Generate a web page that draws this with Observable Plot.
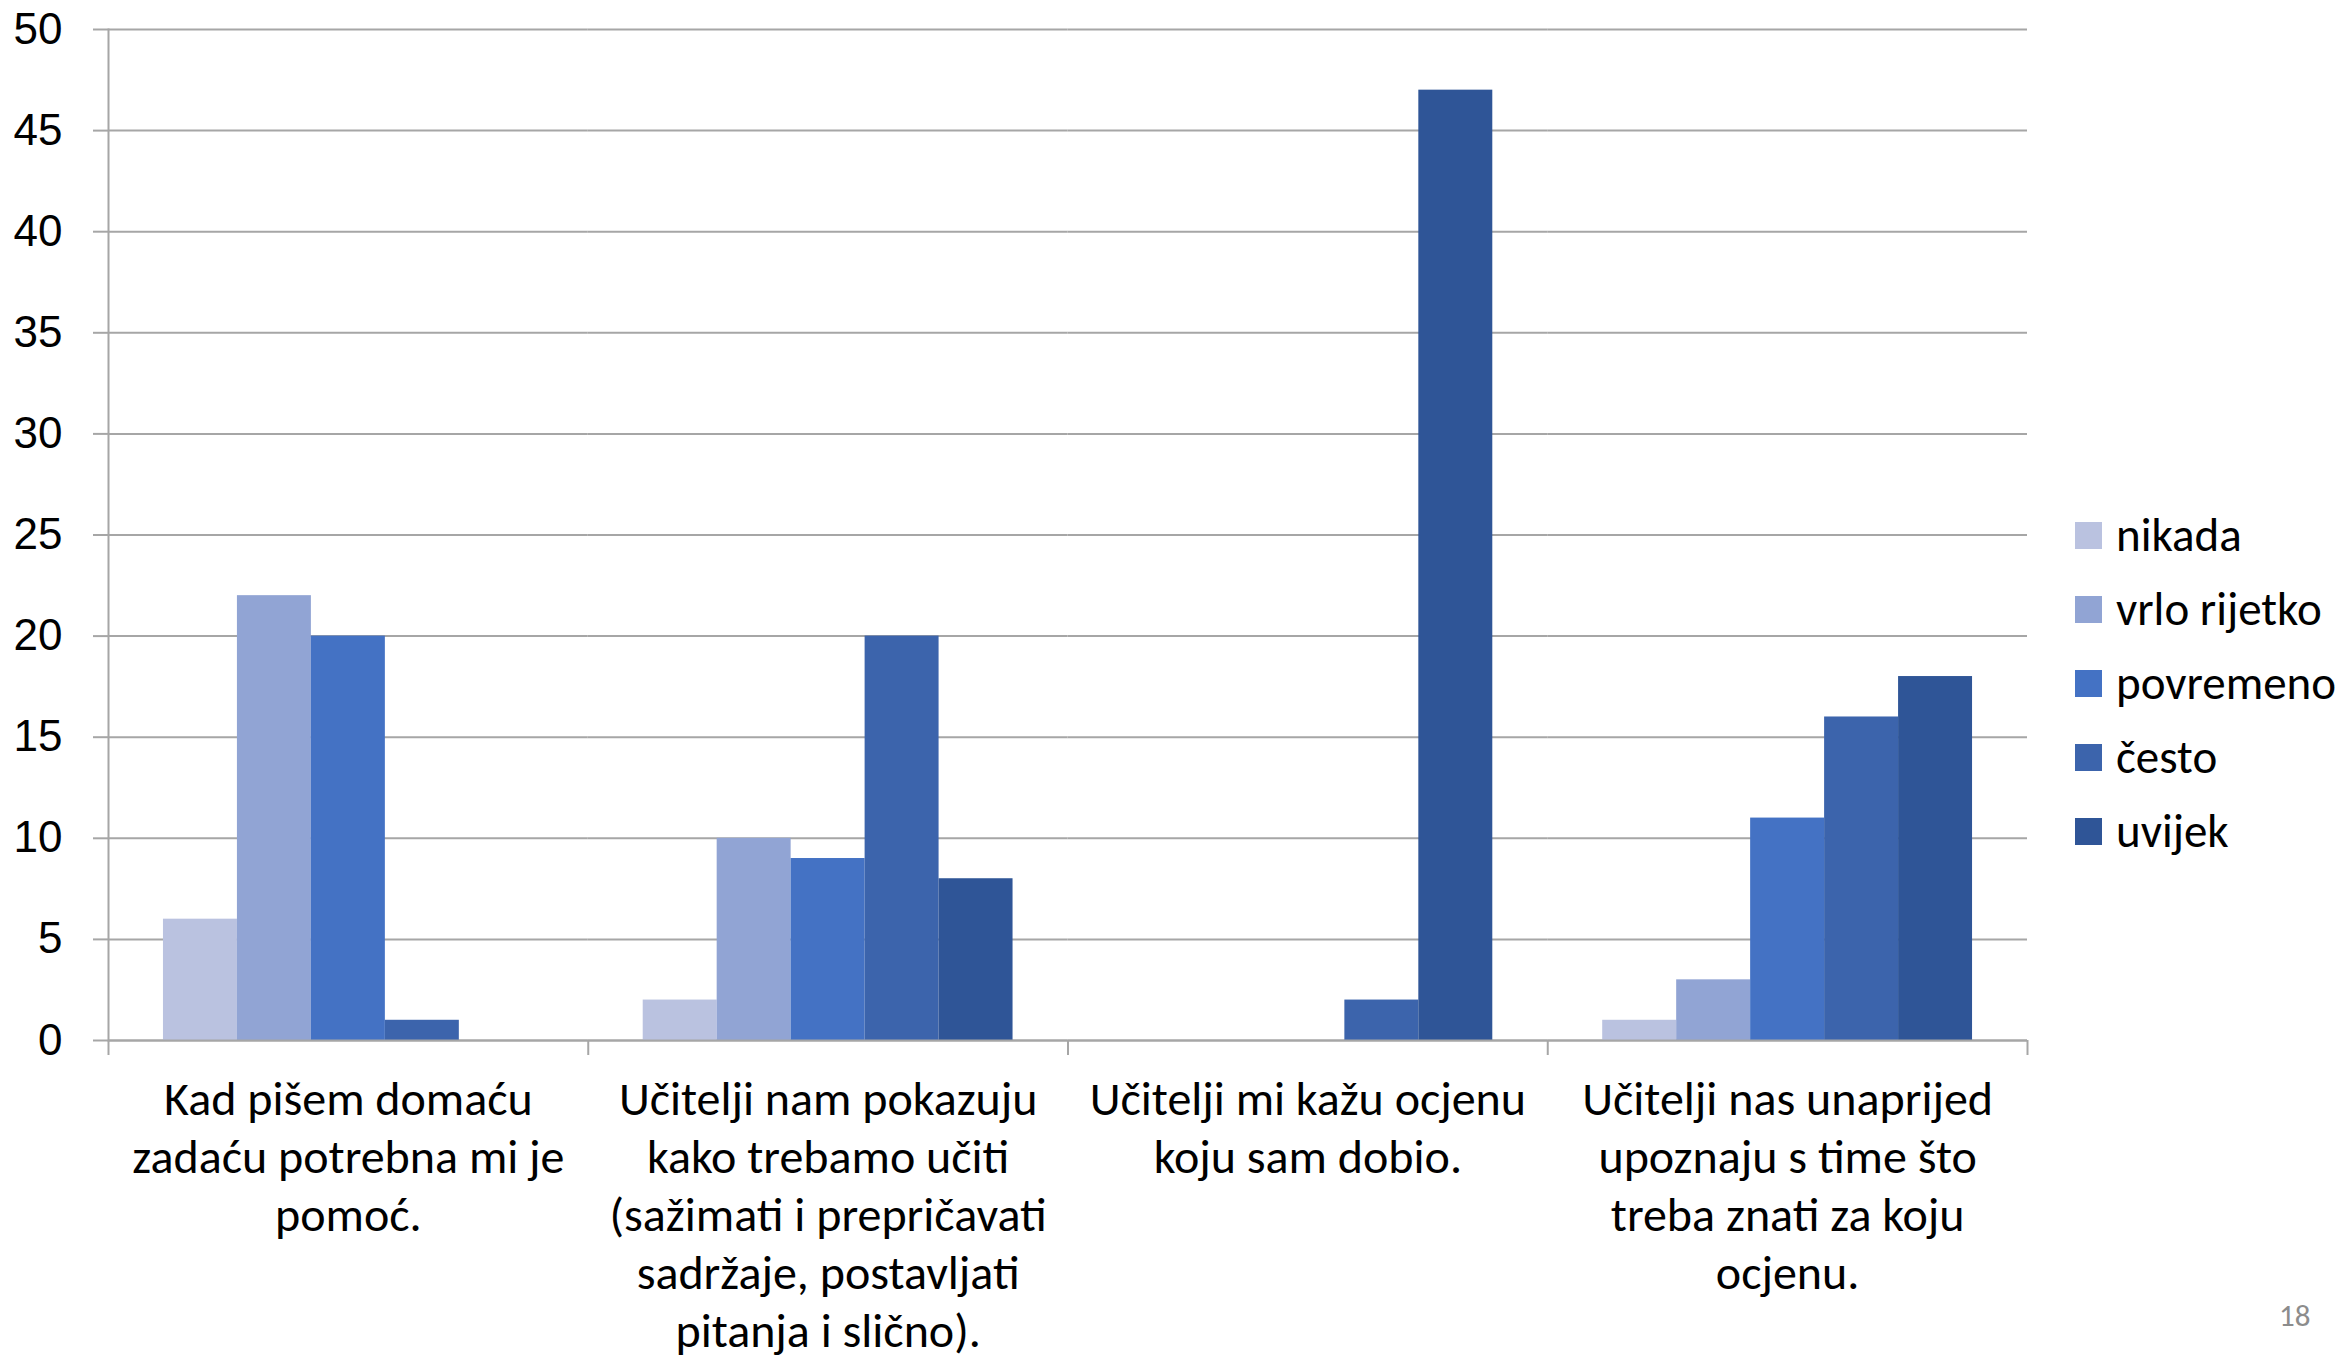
<!DOCTYPE html>
<html>
<head>
<meta charset="utf-8">
<script src="https://cdn.jsdelivr.net/npm/d3@7"></script>
<script src="https://cdn.jsdelivr.net/npm/@observablehq/plot@0.6"></script>
<style>
  html, body { margin: 0; padding: 0; background: #fff; }
  #wrap { position: relative; width: 2349px; height: 1359px; overflow: hidden; }
  #legend { position: absolute; left: 2075px; top: 498px; font-family: Carlito, Lato, sans-serif; font-size: 47px; color: #000; }
  .item { display: flex; align-items: center; height: 74px; }
  .sw { width: 27px; height: 27px; margin-right: 14px; flex: none; }
  #page { position: absolute; left: 2279px; top: 1296px; font-family: Carlito, Lato, sans-serif; font-size: 31px; color: #8c8c8c; }
</style>
</head>
<body>
<div id="wrap">
  <div id="chart"></div>
  <div id="legend"></div>
  <div id="page">18</div>
</div>
<script>
const categories = [
  "Kad pišem domaću zadaću potrebna mi je pomoć.",
  "Učitelji nam pokazuju kako trebamo učiti (sažimati i prepričavati sadržaje, postavljati pitanja i slično).",
  "Učitelji mi kažu ocjenu koju sam dobio.",
  "Učitelji nas unaprijed upoznaju s time što treba znati za koju ocjenu."
];
const categoryLabels = [
  "Kad pišem domaću\nzadaću potrebna mi je\npomoć.",
  "Učitelji nam pokazuju\nkako trebamo učiti\n(sažimati i prepričavati\nsadržaje, postavljati\npitanja i slično).",
  "Učitelji mi kažu ocjenu\nkoju sam dobio.",
  "Učitelji nas unaprijed\nupoznaju s time što\ntreba znati za koju\nocjenu."
];
const series = ["nikada", "vrlo rijetko", "povremeno", "često", "uvijek"];
const nikada      = [6, 2, 0, 1];
const vrloRijetko = [22, 10, 0, 3];
const povremeno   = [20, 9, 0, 11];
const cesto       = [1, 20, 2, 16];
const uvijek      = [0, 8, 47, 18];
const yTicks = [0, 5, 10, 15, 20, 25, 30, 35, 40, 45, 50];
const colors = ["#BAC2E0", "#91A4D4", "#4472C4", "#3C64AC", "#2F5597"];

const seriesValues = [nikada, vrloRijetko, povremeno, cesto, uvijek];
const data = [];
categories.forEach((c, ci) => {
  series.forEach((s, si) => data.push({category: c, series: s, value: seriesValues[si][ci]}));
});

const W = 2349, H = 1359, ML = 108, MR = 322, MT = 29, MB = 319;
const bw = (W - ML - MR) / categories.length;
const gridColor = "#A6A6A6";
const labelFont = "Carlito, Lato, sans-serif";

const chart = Plot.plot({
  width: W, height: H,
  marginLeft: ML, marginRight: MR, marginTop: MT, marginBottom: MB,
  style: {background: "white", overflow: "visible"},
  fx: {domain: categories, padding: 0, label: null, round: false},
  x: {domain: series, paddingInner: 0, paddingOuter: 0.743, axis: null, round: false},
  y: {domain: [0, 50], label: null},
  color: {domain: series, range: colors},
  marks: [
    Plot.ruleY(yTicks, {stroke: gridColor, strokeWidth: 2}),
    Plot.barY(data, {fx: "category", x: "series", y: "value", fill: "series"}),
    Plot.ruleY([0], {stroke: gridColor, strokeWidth: 2}),
    Plot.frame({anchor: "left", facetAnchor: "left", stroke: gridColor, strokeWidth: 2}),
    Plot.axisY({ticks: yTicks, tickSize: 15, tickPadding: 31, stroke: gridColor, strokeWidth: 2,
      fill: "black", fontSize: 44, fontFamily: "Liberation Sans, sans-serif", label: null}),
    Plot.axisFx({anchor: "bottom", tickSize: 0, tickPadding: 33, fontSize: 48, fontFamily: labelFont, lineHeight: 1.21,
      fill: "black", label: null, tickFormat: (d) => categoryLabels[categories.indexOf(d)]}),
    Plot.axisFx({anchor: "bottom", tickSize: 15, dx: -bw / 2, stroke: gridColor, strokeWidth: 2, label: null, tickFormat: () => ""}),
    Plot.axisFx({anchor: "bottom", ticks: [categories[categories.length - 1]], tickSize: 15, dx: bw / 2, stroke: gridColor, strokeWidth: 2, label: null, tickFormat: () => ""})
  ]
});
document.getElementById("chart").appendChild(chart);

const legend = document.getElementById("legend");
series.forEach((s, i) => {
  const item = document.createElement("div");
  item.className = "item";
  const sw = document.createElement("div");
  sw.className = "sw";
  sw.style.background = colors[i];
  const t = document.createElement("span");
  t.textContent = s;
  item.appendChild(sw);
  item.appendChild(t);
  legend.appendChild(item);
});
</script>
</body>
</html>
